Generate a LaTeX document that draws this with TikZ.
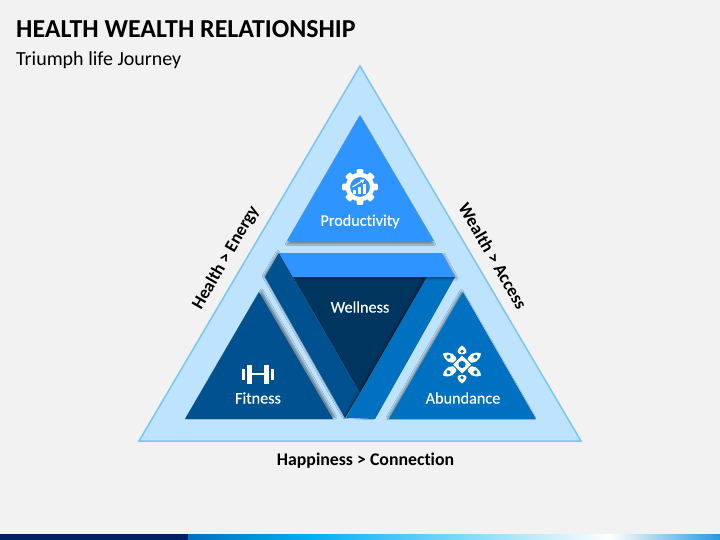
\documentclass[tikz,border=0pt]{standalone}
\usepackage{fontspec}
\setmainfont[RawFeature={-liga;-dlig;-clig}]{Carlito}
\newfontfamily\panelfont[RawFeature={-liga;-dlig;-clig},FakeBold=0.25]{Carlito}
\usetikzlibrary{shadows.blur}
\definecolor{pagebg}{HTML}{F2F2F2}
\definecolor{outerfill}{HTML}{BDE3FF}
\definecolor{outerline}{HTML}{7CC4F5}
\definecolor{brightblue}{HTML}{2E94FF}
\definecolor{midblue}{HTML}{0070C0}
\definecolor{deepblue}{HTML}{00518F}
\definecolor{darkblue}{HTML}{003560}
\definecolor{navybar}{HTML}{002060}
\tikzset{
  panel/.style 2 args={line join=miter,blur shadow={shadow xshift=#1,shadow yshift=#2,shadow blur radius=1.6pt,shadow opacity=40}},
  whitelabel/.style={text=white,font=\panelfont\fontsize{16.2}{18}\selectfont,inner sep=0pt},
  sidelabel/.style={text=black,font=\fontsize{17.8}{20}\bfseries\selectfont,inner sep=0pt}
}
\begin{document}
\begin{tikzpicture}[x=1pt,y=-1pt]
\useasboundingbox (0,0) rectangle (720,540);
\fill[pagebg] (0,0) rectangle (720,540);
% bottom bar
\fill[navybar] (0,534) rectangle (188,540);
\fill[left color=midblue,right color={rgb,255:red,0;green,176;blue,240}] (188,534) rectangle (310,540);
\fill[left color={rgb,255:red,0;green,176;blue,240},right color=white] (310,534) rectangle (610,540);
\fill[left color=white,right color={rgb,255:red,40;green,150;blue,220}] (610,534) rectangle (720,540);
% titles
\node[anchor=west,inner sep=0pt,font=\fontsize{25.9}{28}\bfseries\selectfont] (title) at (16,29) {HEALTH WEALTH RELATIONSHIP};
\node[anchor=west,inner sep=0pt,font=\fontsize{20}{22}\selectfont] (subtitle) at (16,60.5) {Triumph life Journey};
% outer triangle
\draw[fill=outerfill,draw=outerline,line width=1.5pt,line join=miter] (360,66) -- (581,441) -- (139,441) -- cycle;
% corner panels
\fill[brightblue,panel={0pt}{-3pt}] (360,115) -- (434,241) -- (287,241) -- cycle;
\fill[deepblue,panel={2.6pt}{1.5pt}] (259,292) -- (333,419) -- (185,419) -- cycle;
\fill[midblue,panel={-1.6pt}{1pt}] (463,292) -- (536,419) -- (389,419) -- cycle;
% wellness
\fill[darkblue] (293,277) -- (427,277) -- (360,393) -- cycle;
\fill[deepblue,panel={-1.2pt}{1pt}] (279,253) -- (265,277) -- (345,418) -- (360,393) -- (293,277) -- cycle;
\fill[midblue,panel={-1.6pt}{1pt}] (455,277) -- (375,419) -- (346,418) -- (427,277) -- cycle;
\fill[brightblue,panel={1.6pt}{-1.6pt}] (279,253) -- (442,253) -- (455,277) -- (293,277) -- cycle;
% labels
\node[whitelabel] (productivity) at (360,221.5) {Productivity};
\node[whitelabel] (wellness) at (360,307) {Wellness};
\node[whitelabel] (fitness) at (258,398) {Fitness};
\node[whitelabel] (abundance) at (463,398) {Abundance};
\node[sidelabel,rotate=60] (health) at (226,258) {Health > Energy};
\node[sidelabel,rotate=-60] (wealth) at (493,256) {Wealth > Access};
\node[sidelabel] (happiness) at (365.5,460.5) {Happiness > Connection};
% gear icon
\begin{scope}[shift={(360,187)}]
  \foreach \a in {0,45,...,315}
    \fill[white,rotate=\a,rounded corners=1pt] (-3.4,-17.8) rectangle (3.4,-12);
  \draw[white,line width=4.4pt] (0,0) circle (12.2);
  \fill[white] (-7,7.5) rectangle (-4,3.5);
  \fill[white] (-1.8,7.5) rectangle (1.2,0.5);
  \fill[white] (3.4,7.5) rectangle (6.4,-3);
  \draw[white,line width=1.1pt] (-7.5,0) -- (2,-6);
  \fill[white] (4.5,-7.5) -- (0,-7.3) -- (2.8,-3.8) -- cycle;
\end{scope}
% dumbbell icon
\begin{scope}[shift={(258,374)}]
  \fill[white] (-16,-5.5) rectangle (-13,5.5);
  \fill[white] (-11,-9.5) rectangle (-6,9.5);
  \fill[white] (6,-9.5) rectangle (11,9.5);
  \fill[white] (13,-5.5) rectangle (16,5.5);
  \fill[white] (-6,-1.2) rectangle (6,1.2);
\end{scope}
% atom icon
\begin{scope}[shift={(462,364.5)}]
  \foreach \a in {0,180} {
    \begin{scope}[rotate=\a]
      \fill[white] (0,-19) .. controls (3,-17) and (5,-14) .. (4.5,-12.5) .. controls (4,-9.5) and (-4,-9.5) .. (-4.5,-12.5) .. controls (-5,-14) and (-3,-17) .. (0,-19) -- cycle;
      \fill[midblue] (0,-13.2) circle (1.8);
    \end{scope}
  }
  \foreach \a in {60,120,240,300} {
    \begin{scope}[rotate=\a]
      \fill[white] (0,-22) .. controls (6,-17) and (6,-10) .. (0,-6) .. controls (-6,-10) and (-6,-17) .. (0,-22) -- cycle;
      \fill[midblue] (0,-15.5) circle (2);
    \end{scope}
  }
  \fill[midblue] (0,-10.5) -- (10.5,0) -- (0,10.5) -- (-10.5,0) -- cycle;
  \fill[white] (0,-9) -- (9,0) -- (0,9) -- (-9,0) -- cycle;
  \fill[midblue] (0,0) circle (3.6);
\end{scope}
\end{tikzpicture}
\end{document}
